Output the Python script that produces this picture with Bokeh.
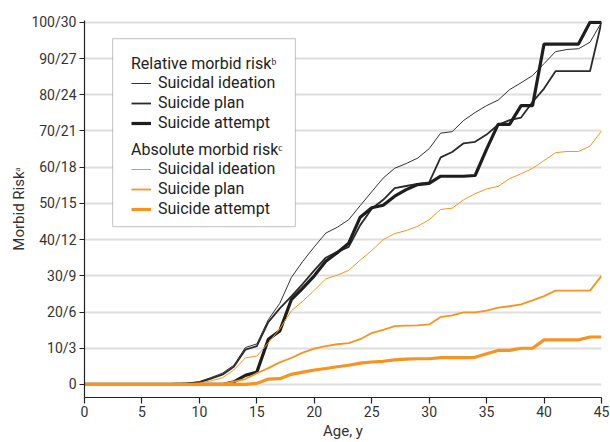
from bokeh.plotting import figure
from bokeh.models import (Range1d, FixedTicker, Legend, LegendItem, BoxAnnotation)
from bokeh.embed import file_html
from bokeh.resources import INLINE

# ---------------- data ----------------
ages = list(range(0, 46))

# Relative morbid risk (%), left scale 0-100
ideation_rel = [0, 0, 0, 0, 0, 0, 0, 0.1, 0.2, 0.4, 0.8, 1.9, 3.1, 5.3, 10.2, 11.2, 17.9, 22.4, 29.5, 34.0,
                38.0, 41.8, 43.4, 45.5, 49.4, 53.2, 57.0, 59.7, 61.0, 62.5, 65.1, 69.4, 69.8, 72.9, 75.1, 77.0,
                78.5, 81.4, 83.3, 85.3, 88.6, 91.9, 92.5, 92.7, 94.5, 100.0]
plan_rel = [0, 0, 0, 0, 0, 0, 0, 0.1, 0.2, 0.3, 0.6, 1.6, 2.7, 4.9, 9.6, 10.6, 17.2, 21.0, 24.3, 27.8,
            31.5, 35.0, 36.6, 38.0, 44.0, 48.5, 51.0, 54.2, 54.8, 55.4, 55.8, 62.7, 64.2, 66.6, 67.0, 69.0,
            71.7, 73.0, 73.7, 78.0, 81.7, 86.5, 86.5, 86.5, 86.5, 100.0]
attempt_rel = [0, 0, 0, 0, 0, 0, 0, 0, 0, 0, 0, 0, 0, 0.7, 2.5, 3.4, 12.5, 14.8, 23.4, 26.6,
               30.0, 34.0, 36.4, 39.0, 46.2, 48.8, 49.5, 52.0, 53.8, 55.2, 55.5, 57.5, 57.5, 57.5, 57.7, 65.0,
               71.8, 71.8, 77.0, 77.0, 94.0, 94.0, 94.0, 94.0, 100.0, 100.0]

# Absolute morbid risk (%), second number of the tick labels, 0-30
ideation_abs = [0, 0, 0, 0, 0, 0, 0, 0, 0, 0.05, 0.12, 0.3, 0.55, 1.2, 2.2, 2.35, 3.45, 4.6, 6.1, 6.9,
                7.8, 8.75, 9.05, 9.45, 10.3, 11.1, 12.0, 12.5, 12.75, 13.1, 13.65, 14.5, 14.6, 15.3, 15.8, 16.2,
                16.4, 17.05, 17.45, 17.9, 18.55, 19.2, 19.3, 19.3, 19.75, 21.0]
plan_abs = [0, 0, 0, 0, 0, 0, 0, 0, 0, 0, 0.02, 0.03, 0.05, 0.24, 0.45, 0.93, 1.35, 1.83, 2.19, 2.64,
            2.97, 3.18, 3.33, 3.42, 3.75, 4.26, 4.53, 4.83, 4.88, 4.9, 4.97, 5.58, 5.73, 5.97, 5.97, 6.12,
            6.36, 6.48, 6.63, 6.96, 7.32, 7.77, 7.77, 7.77, 7.77, 9.0]
attempt_abs = [0, 0, 0, 0, 0, 0, 0, 0, 0, 0, 0, 0, 0, 0, 0, 0.09, 0.45, 0.48, 0.84, 1.02,
               1.2, 1.32, 1.47, 1.59, 1.77, 1.86, 1.92, 2.04, 2.1, 2.13, 2.13, 2.22, 2.22, 2.22, 2.25, 2.55,
               2.82, 2.82, 3.0, 3.0, 3.69, 3.69, 3.69, 3.69, 3.93, 3.93]

x_ticks = [0, 5, 10, 15, 20, 25, 30, 35, 40, 45]
y_ticks = [0, 10, 20, 30, 40, 50, 60, 70, 80, 90, 100]
y_tick_labels = ["0", "10/3", "20/6", "30/9", "40/12", "50/15", "60/18", "70/21", "80/24", "90/27", "100/30"]

# ---------------- figure ----------------
FONT = "Roboto"
BLACK = "#2b2b2b"
ORANGE = "#f7941d"
Y0, Y1 = -3.6, 100.5

p = figure(width=610, height=442, output_backend="svg", toolbar_location=None,
           x_range=Range1d(0, 45), y_range=Range1d(Y0, Y1),
           min_border_left=84, min_border_right=9, min_border_top=20, min_border_bottom=45)
p.extra_y_ranges = {"abs": Range1d(Y0 * 0.3, Y1 * 0.3)}
p.outline_line_color = None
p.background_fill_color = "white"

p.xgrid.visible = False
p.ygrid.ticker = FixedTicker(ticks=y_ticks)
p.ygrid.grid_line_color = "#dedede"
p.ygrid.grid_line_width = 2

p.xaxis.ticker = FixedTicker(ticks=x_ticks)
p.yaxis.ticker = FixedTicker(ticks=y_ticks)
p.yaxis.major_label_overrides = {t: l for t, l in zip(y_ticks, y_tick_labels)}
for ax in (p.xaxis, p.yaxis):
    ax.axis_line_color = "#222222"
    ax.axis_line_width = 1.2
    ax.major_tick_line_color = "#222222"
    ax.major_tick_line_width = 1.2
    ax.minor_tick_line_color = None
    ax.major_tick_in = 0
    ax.major_label_text_font = FONT
    ax.major_label_text_font_size = "14px"
    ax.major_label_text_color = "#333333"
    ax.axis_label_text_font = FONT
    ax.axis_label_text_font_size = "15px"
    ax.axis_label_text_font_style = "normal"
    ax.axis_label_text_color = "#333333"
p.xaxis.major_tick_out = 6
p.yaxis.major_tick_out = 5
p.xaxis.major_label_standoff = 2
p.yaxis.major_label_standoff = 3
p.xaxis.axis_label = "Age, y"
p.yaxis.axis_label = "Morbid Risk\u1d43"
p.xaxis.axis_label_standoff = 2
p.yaxis.axis_label_standoff = 0

# ---------------- lines ----------------
r_id = p.line(ages, ideation_rel, line_color="#333333", line_width=1.0)
r_pl = p.line(ages, plan_rel, line_color=BLACK, line_width=1.8)
r_at = p.line(ages, attempt_rel, line_color="#1e1e1e", line_width=3.2)
o_id = p.line(ages, ideation_abs, line_color=ORANGE, line_width=1.0, y_range_name="abs")
o_pl = p.line(ages, plan_abs, line_color=ORANGE, line_width=1.8, y_range_name="abs")
o_at = p.line(ages, attempt_abs, line_color=ORANGE, line_width=3.2, y_range_name="abs")

# ---------------- legend ----------------
box = BoxAnnotation(left=2.45, right=18.36, bottom=43.6, top=95.5,
                    fill_color="white", fill_alpha=1.0,
                    line_color="#555555", line_width=1.2, level="annotation")
p.add_layout(box)


def make_legend(title, items, loc):
    return Legend(items=items, location=loc, title=title,
                  title_text_font=FONT, title_text_font_size="16px", title_text_font_style="normal",
                  title_text_color="#222222", title_standoff=0,
                  label_text_font=FONT, label_text_font_size="16px", label_text_color="#222222",
                  label_height=16, glyph_height=16, glyph_width=20, label_standoff=7,
                  spacing=1, padding=0, margin=0,
                  border_line_alpha=0, background_fill_alpha=0)


leg1 = make_legend("Relative morbid risk\u1d47",
                   [LegendItem(label="Suicidal ideation", renderers=[r_id]),
                    LegendItem(label="Suicide plan", renderers=[r_pl]),
                    LegendItem(label="Suicide attempt", renderers=[r_at])], (47, 265))
leg2 = make_legend("Absolute morbid risk\u1d9c",
                   [LegendItem(label="Suicidal ideation", renderers=[o_id]),
                    LegendItem(label="Suicide plan", renderers=[o_pl]),
                    LegendItem(label="Suicide attempt", renderers=[o_at])], (47, 179))
p.add_layout(leg1)
p.add_layout(leg2)

open("out.html", "w").write(file_html(p, INLINE))
